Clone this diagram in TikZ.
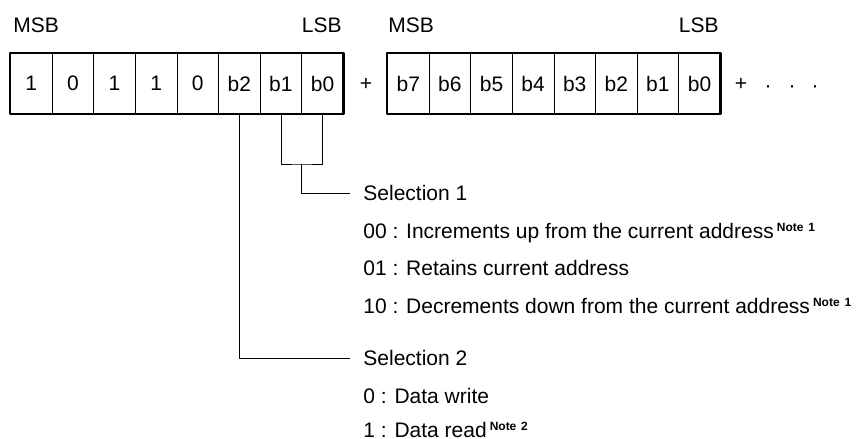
\documentclass[tikz,border=0pt]{standalone}
\usepackage{fontspec}
\setmainfont{Liberation Sans}
\newcommand{\notesup}[1]{\hspace{3bp}\raisebox{7bp}{\fontsize{12bp}{12bp}\selectfont\bfseries Note\hspace{0.4em}#1}}
\begin{document}
\begin{tikzpicture}[line join=bevel,
  bitcell/.style={draw,line width=0.8bp,minimum width=41.6bp,minimum height=60bp,inner sep=0pt},
  txt/.style={inner sep=0pt,font=\fontsize{21bp}{25bp}\selectfont},
  seltxt/.style={inner xsep=13bp,inner ysep=0pt,font=\fontsize{21bp}{25bp}\selectfont},
]
  \useasboundingbox (0bp,0bp) rectangle (859bp,439bp);
  \pgfsetlinewidth{0.8bp}
%%
\pgfsetcolor{black}
  % Node: first byte
  \node [bitcell] (a7) at (31.3bp,355.5bp) {}; \node [txt] at (a7) {1};
  \node [bitcell] (a6) at (72.9bp,355.5bp) {}; \node [txt] at (a6) {0};
  \node [bitcell] (a5) at (114.5bp,355.5bp) {}; \node [txt] at (a5) {1};
  \node [bitcell] (a4) at (156.1bp,355.5bp) {}; \node [txt] at (a4) {1};
  \node [bitcell] (a3) at (197.7bp,355.5bp) {}; \node [txt] at (a3) {0};
  \node [bitcell] (a2) at (239.3bp,355.5bp) {}; \node [txt] at (a2) {b2};
  \node [bitcell] (a1) at (280.9bp,355.5bp) {}; \node [txt] at (a1) {b1};
  \node [bitcell] (a0) at (322.5bp,355.5bp) {}; \node [txt] at (a0) {b0};
  \draw [line width=2.5bp] (a7.north west) rectangle (a0.south east);
  % Node: second byte
  \node [bitcell] (b7) at (408.3bp,355.5bp) {}; \node [txt] at (b7) {b7};
  \node [bitcell] (b6) at (449.9bp,355.5bp) {}; \node [txt] at (b6) {b6};
  \node [bitcell] (b5) at (491.5bp,355.5bp) {}; \node [txt] at (b5) {b5};
  \node [bitcell] (b4) at (533.1bp,355.5bp) {}; \node [txt] at (b4) {b4};
  \node [bitcell] (b3) at (574.7bp,355.5bp) {}; \node [txt] at (b3) {b3};
  \node [bitcell] (b2) at (616.3bp,355.5bp) {}; \node [txt] at (b2) {b2};
  \node [bitcell] (b1) at (657.9bp,355.5bp) {}; \node [txt] at (b1) {b1};
  \node [bitcell] (b0) at (699.5bp,355.5bp) {}; \node [txt] at (b0) {b0};
  \draw [line width=2.5bp] (b7.north west) rectangle (b0.south east);
  % Node: MSB / LSB
  \node [txt,anchor=base west] (msbA) at (13bp,406bp) {MSB};
  \node [txt,anchor=base east] (lsbA) at (342bp,406bp) {LSB};
  \node [txt,anchor=base west] (msbB) at (388bp,406bp) {MSB};
  \node [txt,anchor=base east] (lsbB) at (719bp,406bp) {LSB};
  % Node: plus signs and dots
  \node [txt] (plusA) at (366bp,355bp) {+};
  \node [txt] (plusB) at (741bp,355bp) {+};
  \node [txt,anchor=base] (dotA) at (768bp,346.5bp) {·};
  \node [txt,anchor=base] (dotB) at (792bp,346.5bp) {·};
  \node [txt,anchor=base] (dotC) at (815bp,346.5bp) {·};
  % Node: Selection 1
  \node [seltxt,anchor=base west] (sel1) at (350bp,238.5bp) {Selection 1};
  \node [txt,anchor=base west] (inc) at (363bp,200bp) {00 : Increments up from the current address\notesup{1}};
  \node [txt,anchor=base west] (ret) at (363bp,163bp) {01 : Retains current address};
  \node [txt,anchor=base west] (dec) at (363bp,125.5bp) {10 : Decrements down from the current address\notesup{1}};
  % Node: Selection 2
  \node [seltxt,anchor=base west] (sel2) at (350bp,73.5bp) {Selection 2};
  \node [txt,anchor=base west] (wr) at (363bp,36bp) {0 : Data write};
  \node [txt,anchor=base west] (rd) at (363bp,2bp) {1 : Data read\notesup{2}};
  % Edge: b1, b0 -> Selection 1
  \coordinate (brk) at (301.7bp,275bp);
  \draw (a1.south) |- (brk) -| (a0.south);
  \draw (brk) |- (sel1.west);
  % Edge: b2 -> Selection 2
  \draw (a2.south) |- (sel2.west);
%
\end{tikzpicture}
\end{document}
